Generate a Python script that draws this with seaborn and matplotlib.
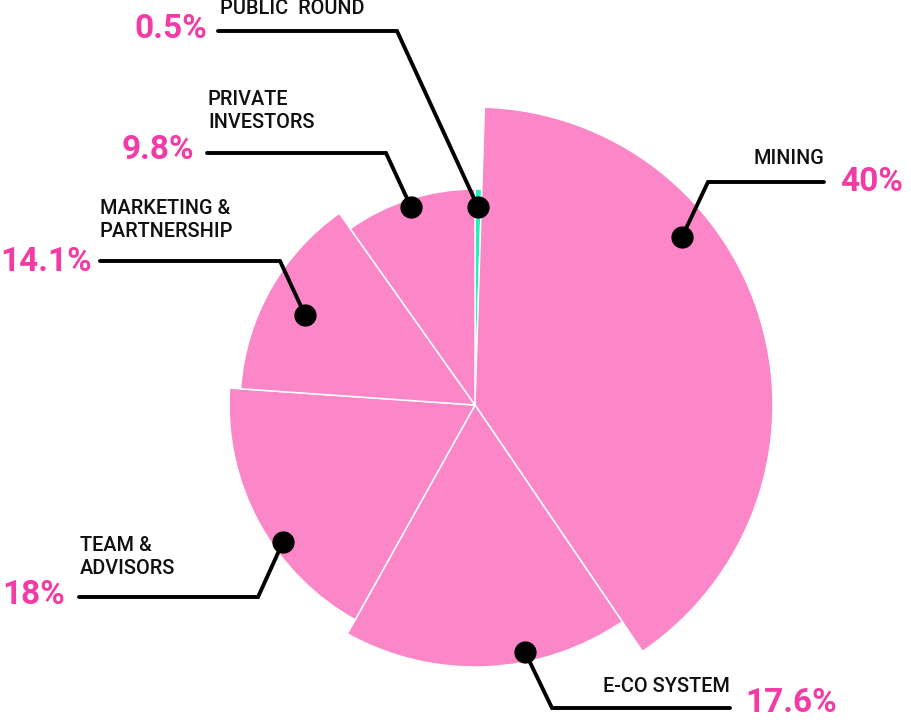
import numpy as np
import seaborn as sns
import matplotlib
matplotlib.use("Agg")
import matplotlib.pyplot as plt

# data (clockwise from the top)
categories = ["PUBLIC  ROUND", "MINING", "E-CO SYSTEM", "TEAM &\nADVISORS",
              "MARKETING &\nPARTNERSHIP", "PRIVATE\nINVESTORS"]
shares = [0.5, 40, 17.6, 18, 14.1, 9.8]
pct_labels = ["0.5%", "40%", "17.6%", "18%", "14.1%", "9.8%"]
radii = [216, 298, 262, 246, 235, 216]

PINK = "#FB87C9"
GREEN = "#22F2B8"
TEXT_PINK = "#F23BA5"

sns.set_style("white")
plt.rcParams["font.family"] = ["Roboto", "DejaVu Sans"]

W, H = 912, 720
fig = plt.figure(figsize=(W / 100, H / 100), dpi=100)

# pie drawn as polar bars, 1 radius unit = 1 pixel
cx, cy, R = 475, 405, 305
ax = fig.add_axes([(cx - R) / W, (H - cy - R) / H, 2 * R / W, 2 * R / H],
                  projection="polar")
ax.set_theta_zero_location("N")
ax.set_theta_direction(-1)
widths = np.deg2rad(np.array(shares) * 3.6)
starts = np.concatenate([[0], np.cumsum(widths)[:-1]])
colors = [GREEN] + [PINK] * 5
ax.bar(starts, radii, width=widths, bottom=0, align="edge",
       color=colors, edgecolor="white", linewidth=1.1)
ax.set_ylim(0, R)
ax.axis("off")

# annotation overlay in pixel coordinates
ov = fig.add_axes([0, 0, 1, 1])
ov.set_xlim(0, W)
ov.set_ylim(H, 0)
ov.axis("off")

# leader lines: dot -> elbow -> end
leaders = {
    "PUBLIC  ROUND": [(478, 207), (397, 31), (218, 31)],
    "MINING": [(682, 237), (708, 182), (824, 182)],
    "E-CO SYSTEM": [(525, 652), (552, 708), (730, 708)],
    "TEAM &\nADVISORS": [(283, 542), (258, 597), (79, 597)],
    "MARKETING &\nPARTNERSHIP": [(305, 315), (280, 261), (100, 261)],
    "PRIVATE\nINVESTORS": [(411, 207), (386, 153), (207, 153)],
}
for name, pts in leaders.items():
    xs, ys = zip(*pts)
    ov.plot(xs, ys, color="black", lw=2.8, solid_joinstyle="miter")
    ov.plot(xs[0], ys[0], "o", color="black", ms=15)

# category names
name_pos = {
    "PUBLIC  ROUND": (220, 8, "left"),
    "MINING": (824, 159, "right"),
    "E-CO SYSTEM": (730, 687, "right"),
    "TEAM &\nADVISORS": (80, 557, "left"),
    "MARKETING &\nPARTNERSHIP": (100, 220, "left"),
    "PRIVATE\nINVESTORS": (208, 111, "left"),
}
for name, (x, y, ha) in name_pos.items():
    ov.text(x, y, name, ha=ha, va="center", fontsize=14.3, color="#111111",
            linespacing=1.3, fontweight="medium")

# percentages
pct_pos = [(207, 29, "right"), (840, 182, "left"), (745, 703, "left"),
           (2, 595, "left"), (0, 262, "left"), (194, 150, "right")]
for lab, (x, y, ha) in zip(pct_labels, pct_pos):
    ov.text(x, y, lab, ha=ha, va="center", fontsize=24, color=TEXT_PINK,
            fontweight="bold")

fig.savefig("out.png", dpi=100)
